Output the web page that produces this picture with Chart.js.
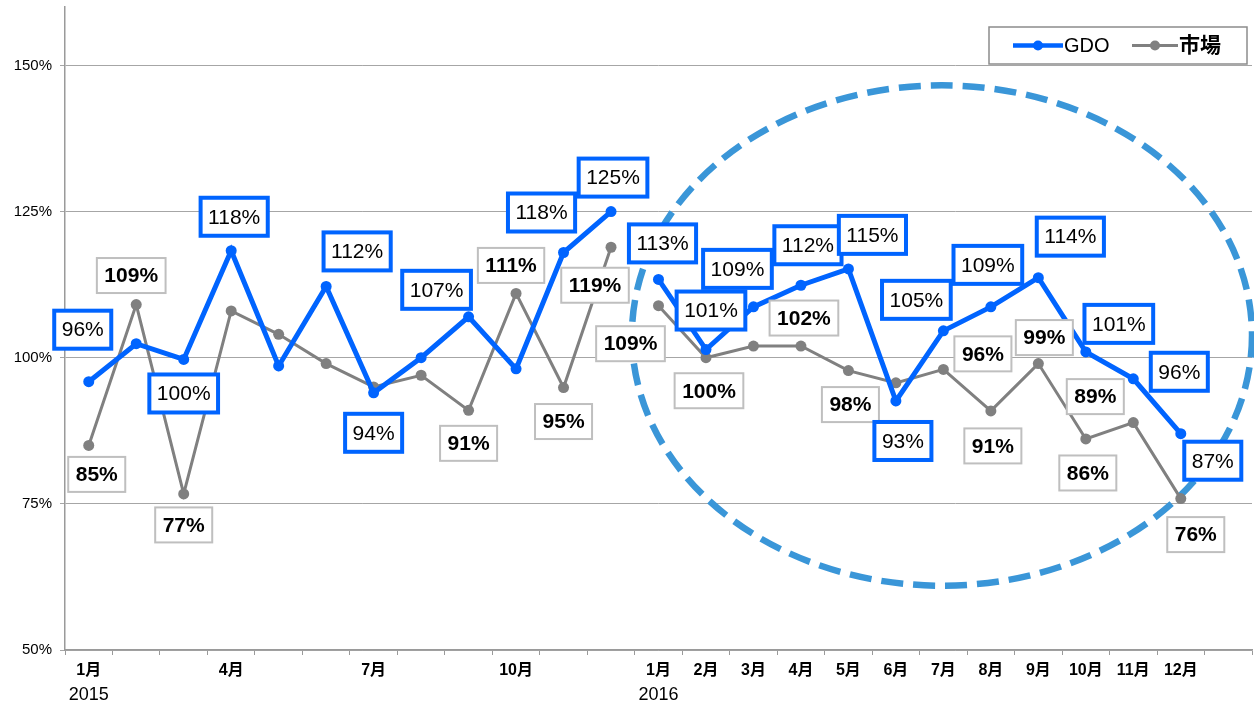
<!DOCTYPE html>
<html>
<head>
<meta charset="utf-8">
<script src="https://cdn.jsdelivr.net/npm/chart.js@4/dist/chart.umd.min.js"></script>
<style>
  body { margin: 0; background: #fff; }
</style>
</head>
<body>
<canvas id="chart" width="1254" height="704"></canvas>
<script>
// categories (last slot is left empty like the original)
var monthLabels = ['1月', '', '', '4月', '', '', '7月', '', '', '10月', '', '',
  '1月', '2月', '3月', '4月', '5月', '6月', '7月', '8月', '9月', '10月', '11月', '12月', ''];
var yearLabels = ['2015', '', '', '', '', '', '', '', '', '', '', '',
  '2016', '', '', '', '', '', '', '', '', '', '', '', ''];

// series values (%)
var gdoValues = [95.9, 102.4, 99.7, 118.3, 98.6, 112.2, 94.0, 100.0, 107.0, 98.1, 118.0, 125.0,
  113.4, 101.4, 108.7, 112.4, 115.2, 92.6, 104.6, 108.7, 113.7, 101.0, 96.4, 87.0, null];
var marketValues = [85.0, 109.1, 76.7, 108.0, 104.0, 99.0, 95.0, 97.0, 91.0, 111.0, 94.9, 118.9,
  108.9, 100.0, 102.0, 102.0, 97.8, 95.7, 98.0, 90.9, 99.0, 86.1, 88.9, 75.9, null];

// y axis ticks
var yTicks = [50, 75, 100, 125, 150];

// line is broken between the two years
var breakAfter = 11;

// where each label box sits relative to its point (px), null = no label
var gdoLabelPos = [[-6,-52], null, [0,34], [3,-34], null, [31,-35], [0,40], null, [-32,-27], null, [-22,-40], [2,-34],
  [4,-36], [5,-39], [-16,-38], [7,-40], [24,-34], [7,40], [-27,-31], [-3,-42], [32,-41], [33,-28], [46,-7], [32,27], null];
var marketLabelPos = [[8,29], [-5,-29], [0,31], null, null, null, null, null, [0,33], [-5,-28], [0,34], [-16,38],
  [-28,38], [3,33], null, [3,-28], [2,34], [87,-29], null, [2,35], [6,-26], [2,34], [-38,-26], [15,36], null];

var BLUE = '#0064FF';
var GRAY = '#808080';
var FONT = "'Liberation Sans', 'Noto Sans CJK JP', sans-serif";

//dashed ellipse around 2016 (centre in category index / value units)
var highlightEllipse = { index: 17.97, value: 103.8, halfIndex: 6.53, halfValue: 42.8 };

var ellipsePlugin = {
  id: 'ellipse',
  beforeDatasetsDraw: function(chart) {
    var ctx = chart.ctx;
    var xs = chart.scales.x, ys = chart.scales.y;
    var cx = xs.getPixelForValue(highlightEllipse.index);
    var cy = ys.getPixelForValue(highlightEllipse.value);
    var rx = xs.getPixelForValue(highlightEllipse.index + highlightEllipse.halfIndex) - cx;
    var ry = cy - ys.getPixelForValue(highlightEllipse.value + highlightEllipse.halfValue);
    ctx.save();
    ctx.strokeStyle = '#3A96D8';
    ctx.lineWidth = 6.5;
    ctx.setLineDash([22, 10]);
    ctx.beginPath();
    ctx.ellipse(cx, cy, rx, ry, 0, 0, Math.PI * 2);
    ctx.stroke();
    ctx.restore();
  }
};

var boxLabelPlugin = {
  id: 'boxLabels',
  afterDatasetsDraw: function(chart) {
    var ctx = chart.ctx;
    var setups = [
      { ds: 1, pos: marketLabelPos, border: '#BFBFBF', lw: 2, h: 35, font: 'bold 21px ' + FONT },
      { ds: 0, pos: gdoLabelPos, border: BLUE, lw: 4, h: 38, font: '21px ' + FONT }
    ];
    ctx.save();
    setups.forEach(function(s) {
      var meta = chart.getDatasetMeta(s.ds);
      var values = chart.data.datasets[s.ds].data;
      ctx.font = s.font;
      ctx.textAlign = 'center';
      ctx.textBaseline = 'middle';
      meta.data.forEach(function(pt, i) {
        var p = s.pos[i];
        if (!p || values[i] == null) return;
        var text = Math.round(values[i]) + '%';
        var w = ctx.measureText(text).width + 15;
        var x = pt.x + p[0], y = pt.y + p[1];
        ctx.fillStyle = '#fff';
        ctx.fillRect(x - w / 2, y - s.h / 2, w, s.h);
        ctx.strokeStyle = s.border;
        ctx.lineWidth = s.lw;
        ctx.strokeRect(x - w / 2, y - s.h / 2, w, s.h);
        ctx.fillStyle = '#000';
        ctx.fillText(text, x, y + 1);
      });
    });
    ctx.restore();
  }
};

var extrasPlugin = {
  id: 'extras',
  afterDraw: function(chart) {
    var ctx = chart.ctx;
    var xs = chart.scales.x;
    var area = chart.chartArea;
    ctx.save();
    //year row under the month labels
    ctx.font = '18px ' + FONT;
    ctx.fillStyle = '#000';
    ctx.textAlign = 'center';
    ctx.textBaseline = 'middle';
    yearLabels.forEach(function(y, i) {
      if (y) ctx.fillText(y, xs.getPixelForValue(i), area.bottom + 45);
    });

    //legend box top right
    var bw = 258, bh = 37;
    var bx = area.right - 5 - bw, by = area.top + 20;
    ctx.fillStyle = '#fff';
    ctx.fillRect(bx, by, bw, bh);
    ctx.strokeStyle = '#8C8C8C';
    ctx.lineWidth = 1.5;
    ctx.strokeRect(bx, by, bw, bh);
    var items = [
      { x: bx + 24, len: 50, color: BLUE, lw: 4.5, r: 5, font: '20px ' + FONT },
      { x: bx + 143, len: 46, color: GRAY, lw: 3, r: 5, font: 'bold 21px ' + FONT }
    ];
    var my = by + bh / 2;
    items.forEach(function(it, k) {
      ctx.strokeStyle = it.color;
      ctx.lineWidth = it.lw;
      ctx.beginPath();
      ctx.moveTo(it.x, my);
      ctx.lineTo(it.x + it.len, my);
      ctx.stroke();
      ctx.fillStyle = it.color;
      ctx.beginPath();
      ctx.arc(it.x + it.len / 2, my, it.r, 0, Math.PI * 2);
      ctx.fill();
      ctx.font = it.font;
      ctx.fillStyle = '#000';
      ctx.textAlign = 'left';
      ctx.fillText(chart.data.datasets[k].label, it.x + it.len + 1, my + 1);
    });
    ctx.restore();
  }
};

var gapSegment = {
  borderColor: function(c) { return c.p0DataIndex === breakAfter ? 'rgba(0,0,0,0)' : undefined; }
};

var chart = new Chart(document.getElementById('chart'), {
  type: 'line',
  data: {
    labels: monthLabels,
    datasets: [{
      label: 'GDO',
      data: gdoValues,
      borderColor: BLUE,
      backgroundColor: BLUE,
      borderWidth: 5,
      pointRadius: 5.5,
      pointBackgroundColor: BLUE,
      pointBorderWidth: 0,
      tension: 0,
      segment: gapSegment
    }, {
      label: '市場',
      data: marketValues,
      borderColor: GRAY,
      backgroundColor: GRAY,
      borderWidth: 3,
      pointRadius: 5.5,
      pointBackgroundColor: GRAY,
      pointBorderWidth: 0,
      tension: 0,
      segment: gapSegment
    }]
  },
  options: {
    responsive: false,
    animation: false,
    layout: { autoPadding: false, padding: { top: 7, right: 2, left: 0, bottom: 0 } },
    plugins: {
      legend: { display: false },
      tooltip: { enabled: false }
    },
    scales: {
      x: {
        offset: true,
        grid: { offset: true, drawOnChartArea: false, tickLength: 5, color: '#9A9A9A' },
        border: { color: '#9A9A9A', width: 1.5 },
        ticks: {
          autoSkip: false, maxRotation: 0, padding: 6,
          color: '#000',
          font: { family: FONT, size: 16, weight: 'bold' }
        },
        afterFit: function(scale) {
          scale.height = 54;
          scale.paddingLeft = 0;
          scale.paddingRight = 0;
        }
      },
      y: {
        min: 50,
        max: 160,
        afterBuildTicks: function(scale) {
          scale.ticks = yTicks.map(function(v) { return { value: v }; });
        },
        grid: { color: '#A6A6A6', tickLength: 5 },
        border: { color: '#9A9A9A', width: 1.5 },
        ticks: {
          padding: 8,
          color: '#000',
          font: { family: FONT, size: 15 },
          callback: function(v) { return v + '%'; }
        },
        afterFit: function(scale) {
          scale.width = 65;
          scale.paddingTop = 0;
          scale.paddingBottom = 0;
        }
      }
    }
  },
  plugins: [ellipsePlugin, boxLabelPlugin, extrasPlugin]
});
</script>
</body>
</html>
